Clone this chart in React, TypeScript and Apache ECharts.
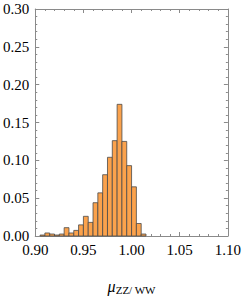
import React, { useEffect, useRef } from "react";
import * as echarts from "echarts";

const binStarts = [0.905, 0.91, 0.915, 0.92, 0.925, 0.93, 0.935, 0.94, 0.945, 0.95, 0.955, 0.96, 0.965, 0.97, 0.975, 0.98, 0.985, 0.99, 0.995, 1.0, 1.005, 1.01];
const binWidth = 0.005;
const binValues = [0.0013, 0.004, 0.0026, 0.0013, 0.0026, 0.011, 0.004, 0.0074, 0.0147, 0.026, 0.018, 0.044, 0.057, 0.081, 0.104, 0.126, 0.174, 0.125, 0.093, 0.065, 0.0165, 0.0026];
const xTicks = ["0.90", "0.95", "1.00", "1.05", "1.10"];
const yTicks = ["0.00", "0.05", "0.10", "0.15", "0.20", "0.25", "0.30"];

export default function App() {
  const ref = useRef<HTMLDivElement>(null);
  useEffect(() => {
    if (!ref.current) return;
    const chart = echarts.init(ref.current, undefined, { renderer: "svg" });
    const frame = "#8a8a8a";
    const font = "Liberation Serif";
    const commonX = {
      type: "value",
      min: Number(xTicks[0]),
      max: Number(xTicks[xTicks.length - 1]),
      interval: 0.05,
      splitLine: { show: false },
      axisLine: { show: true, onZero: false, lineStyle: { color: frame, width: 1 } },
      axisTick: { show: true, inside: true, length: 4, lineStyle: { color: frame } },
      minorTick: { show: true, splitNumber: 5, length: 2, lineStyle: { color: frame } },
    };
    const commonY = {
      type: "value",
      min: Number(yTicks[0]),
      max: Number(yTicks[yTicks.length - 1]),
      interval: 0.05,
      splitLine: { show: false },
      axisLine: { show: true, onZero: false, lineStyle: { color: frame, width: 1 } },
      axisTick: { show: true, inside: true, length: 4, lineStyle: { color: frame } },
      minorTick: { show: true, splitNumber: 5, length: 2, lineStyle: { color: frame } },
    };
    const data = binStarts.map((s, i) => [s, s + binWidth, binValues[i]]);
    chart.setOption({
      animation: false,
      textStyle: { fontFamily: font },
      grid: { left: 35, right: 15, top: 9, bottom: 60 },
      xAxis: [
        {
          ...commonX,
          position: "bottom",
          axisLabel: { show: true, color: "#000", fontFamily: font, fontSize: 15, margin: 6, formatter: (v: number) => v.toFixed(2) },
          name: "{mu|μ}{sub|ZZ/ WW}",
          nameLocation: "middle",
          nameGap: 42,
          nameTextStyle: {
            rich: {
              mu: { fontFamily: font, fontStyle: "italic", fontSize: 16, color: "#000" },
              sub: { fontFamily: font, fontSize: 11, color: "#000", padding: [6, 0, 0, 0] },
            },
          },
        },
        { ...commonX, position: "top", axisLabel: { show: false } },
      ],
      yAxis: [
        {
          ...commonY,
          position: "left",
          axisLabel: { show: true, color: "#000", fontFamily: font, fontSize: 15, margin: 6, formatter: (v: number) => v.toFixed(2) },
        },
        { ...commonY, position: "right", axisLabel: { show: false } },
      ],
      series: [
        {
          type: "custom",
          data,
          encode: { x: [0, 1], y: 2 },
          renderItem: (params: any, api: any) => {
            const p0 = api.coord([api.value(0), 0]);
            const p1 = api.coord([api.value(1), api.value(2)]);
            return {
              type: "rect",
              shape: { x: p0[0], y: p1[1], width: p1[0] - p0[0], height: p0[1] - p1[1] },
              style: { fill: "#fba24c", stroke: "#4a4a4a", lineWidth: 0.8 },
            };
          },
        },
      ],
    });
    return () => chart.dispose();
  }, []);
  return <div ref={ref} style={{ position: "absolute", left: 0, top: 0, width: 244, height: 300 }} />;
}
